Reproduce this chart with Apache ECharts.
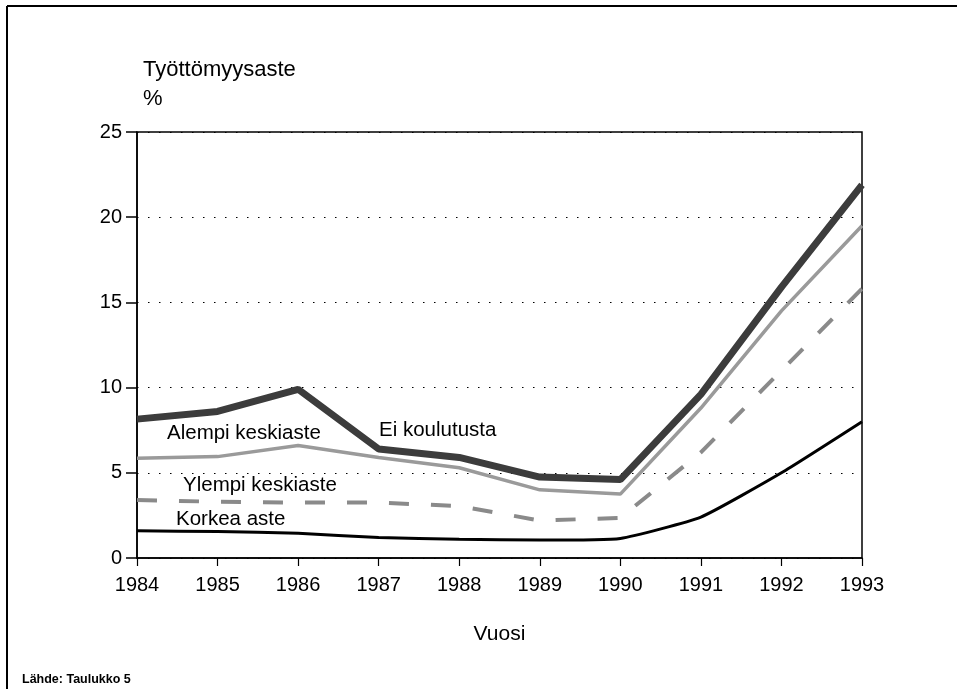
<!DOCTYPE html>
<html>
<head>
<meta charset="utf-8">
<script src="https://cdn.jsdelivr.net/npm/echarts@6/dist/echarts.min.js"></script>
<style>
  html, body { margin: 0; padding: 0; background: #fff; }
  #chart { width: 957px; height: 689px; }
</style>
</head>
<body>
<div id="chart"></div>
<script>
// vuodet ja työttömyysasteet (%) koulutusasteittain
const years = ["1984", "1985", "1986", "1987", "1988", "1989", "1990", "1991", "1992", "1993"];
const eiKoulutusta = [8.15, 8.6, 9.9, 6.4, 5.9, 4.75, 4.6, 9.6, 15.9, 21.9];
const alempiKeskiaste = [5.85, 5.95, 6.6, 5.9, 5.3, 4.0, 3.75, 8.8, 14.5, 19.5];
const ylempiKeskiaste = [3.4, 3.3, 3.25, 3.25, 3.05, 2.2, 2.35, 6.2, 11.0, 15.8];
const korkeaAste = [1.6, 1.55, 1.45, 1.2, 1.1, 1.05, 1.15, 2.4, 5.0, 8.0];

const font = "'Liberation Sans', Arial, sans-serif";

const chart = echarts.init(document.getElementById("chart"), null, { renderer: "canvas" });

const option = {
    animation: false,
    backgroundColor: "#ffffff",
    grid: {
        left: 137,
        right: 95,
        top: 132,
        bottom: 131,
        show: true,
        borderColor: "#000",
        borderWidth: 1.5,
        backgroundColor: "transparent",
    },
    xAxis: {
        type: "category",
        data: years,
        boundaryGap: false,
        name: "Vuosi",
        nameLocation: "middle",
        nameGap: 66,
        nameTextStyle: { fontFamily: font, fontSize: 21, color: "#000" },
        axisLine: { lineStyle: { color: "#000", width: 1.5 } },
        axisTick: { show: true, length: 8, lineStyle: { color: "#000", width: 1.2 } },
        axisLabel: { fontFamily: font, fontSize: 20, color: "#000", margin: 17 },
        splitLine: { show: false },
    },
    yAxis: {
        type: "value",
        min: 0,
        max: 25,
        interval: 5,
        axisLine: { show: true, lineStyle: { color: "#000", width: 1.5 } },
        axisTick: { show: true, inside: false, length: 11, lineStyle: { color: "#000", width: 1.5 } },
        axisLabel: { fontFamily: font, fontSize: 20, color: "#000", margin: 15 },
        splitLine: {
            show: true,
            lineStyle: { color: "#000", width: 1.2, type: [1.5, 9.5] },
        },
    },
    series: [
        {
            name: "Korkea aste",
            type: "line",
            data: korkeaAste,
            symbol: "none",
            smooth: 0.15,
            lineStyle: { color: "#000", width: 3 },
            z: 4,
        },
        {
            name: "Ylempi keskiaste",
            type: "line",
            data: ylempiKeskiaste,
            symbol: "none",
            lineStyle: { color: "#8a8a8a", width: 4, type: [20, 22] },
            z: 3,
        },
        {
            name: "Alempi keskiaste",
            type: "line",
            data: alempiKeskiaste,
            symbol: "none",
            lineStyle: { color: "#9a9a9a", width: 3.5 },
            z: 5,
        },
        {
            name: "Ei koulutusta",
            type: "line",
            data: eiKoulutusta,
            symbol: "none",
            lineStyle: { color: "#3c3c3c", width: 7 },
            z: 6,
        },
    ],
    graphic: [
        // ulkokehys
        { type: "line", shape: { x1: 7, y1: 6, x2: 957, y2: 6 }, style: { stroke: "#000", lineWidth: 2 } },
        { type: "line", shape: { x1: 7, y1: 6, x2: 7, y2: 689 }, style: { stroke: "#000", lineWidth: 2 } },
        { type: "text", left: 143, top: 59, style: { text: "Työttömyysaste", font: "22px " + font, fill: "#000" } },
        { type: "text", left: 143, top: 88, style: { text: "%", font: "22px " + font, fill: "#000" } },
        { type: "text", left: 379, top: 420, style: { text: "Ei koulutusta", font: "20.5px " + font, fill: "#000" } },
        { type: "text", left: 167, top: 423, style: { text: "Alempi keskiaste", font: "20.5px " + font, fill: "#000" } },
        { type: "text", left: 183, top: 475, style: { text: "Ylempi keskiaste", font: "20.5px " + font, fill: "#000" } },
        { type: "text", left: 176, top: 509, style: { text: "Korkea aste", font: "20.5px " + font, fill: "#000" } },
        { type: "text", left: 22, top: 673, style: { text: "Lähde: Taulukko 5", font: "bold 12.5px " + font, fill: "#000" } },
    ],
};

chart.setOption(option);

window.addEventListener("resize", () => {
    chart.resize();
});
</script>
</body>
</html>
